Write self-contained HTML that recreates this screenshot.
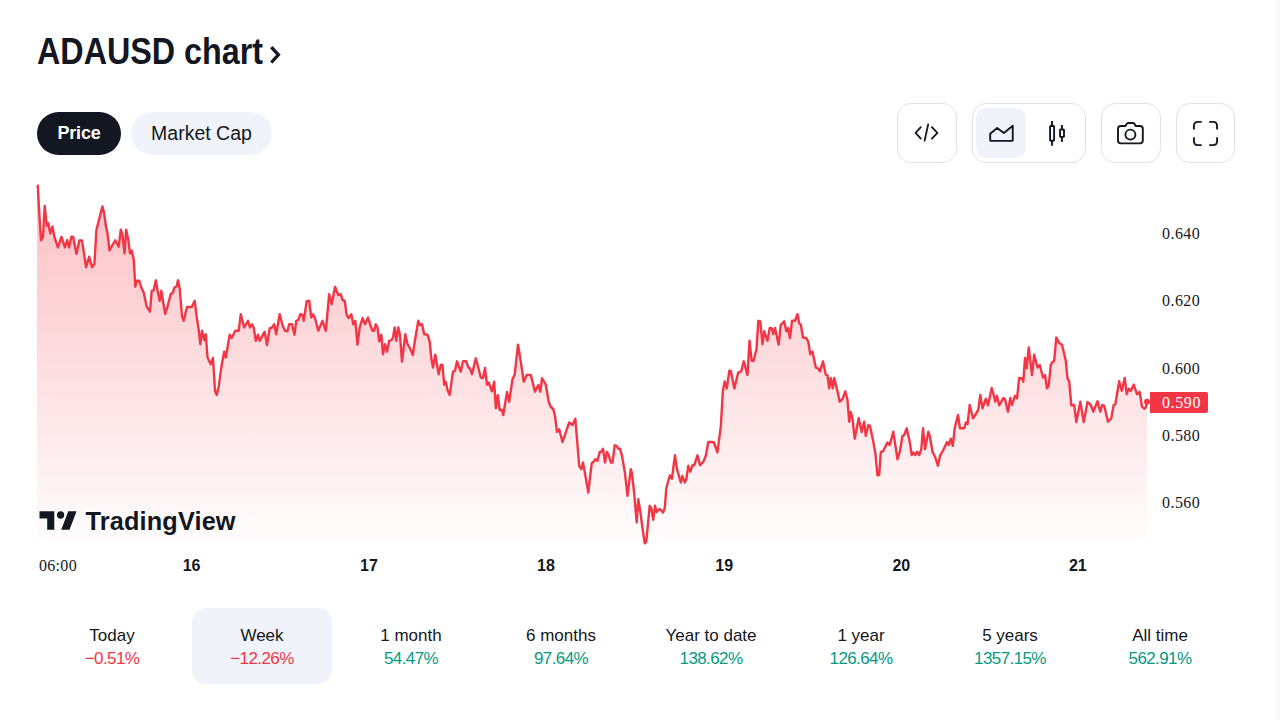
<!DOCTYPE html>
<html><head><meta charset="utf-8"><title>ADAUSD chart</title>
<style>
*{box-sizing:border-box;margin:0;padding:0}
html,body{width:1280px;height:720px;overflow:hidden;background:#fff}
body{font-family:"Liberation Sans",sans-serif;color:#131722;position:relative}
.abs{position:absolute}
#title{left:37px;top:31.5px;font-size:36px;font-weight:bold;white-space:nowrap;line-height:40px}
.pill{position:absolute;top:112px;height:43px;border-radius:22px;font-size:19px;line-height:43px;text-align:center}
#price{left:37px;width:84px;background:#131722;color:#fff;font-weight:bold;font-size:18px;letter-spacing:-0.2px}
#mcap{left:131px;width:141px;background:#f0f3fa;color:#131722;font-size:19.5px}
.ib{position:absolute;top:103px;width:60px;height:60px;border:1px solid #e0e3eb;border-radius:14px}
.ib svg{position:absolute;left:50%;top:50%;transform:translate(-50%,-50%)}
#grp{left:972px;width:114px}
#grpsel{position:absolute;left:3px;top:4px;width:50px;height:50px;border-radius:10px;background:#f0f3fa}
.pl{position:absolute;left:1162px;font-family:"Liberation Serif",serif;font-size:16px;line-height:16px;color:#131722;letter-spacing:0.45px}
.tl{position:absolute;top:558px;width:40px;text-align:center;font-size:16px;line-height:16px;color:#131722}
.tl b{font-weight:bold}
.per{position:absolute;top:608px;width:140px;height:76px;border-radius:14px;text-align:center}
.per .n{position:absolute;left:0;right:0;top:18px;font-size:17px;line-height:20px;color:#131722}
.per .v{position:absolute;left:0;right:0;top:41px;font-size:17px;line-height:20px;letter-spacing:-0.6px}
.red{color:#f23645}.grn{color:#089981}
#scroll{position:absolute;left:1275px;top:0;width:5px;height:720px;background:#fafafa}
</style></head><body>
<div id="title" class="abs"><span style="display:inline-block;transform:scaleX(0.897);transform-origin:0 0">ADAUSD chart</span></div>
<svg class="abs" style="left:260px;top:40px" width="30" height="30" viewBox="260 40 30 30"><path d="M271.3 47.1 L278.4 54.8 L271.3 62.5" stroke="#131722" stroke-width="3.3" fill="none"/></svg>
<div id="price" class="pill">Price</div>
<div id="mcap" class="pill">Market Cap</div>

<div class="ib" style="left:897px"></div>
<div class="ib" id="grp">
<div id="grpsel"></div></div>
<div class="ib" style="left:1101px"></div>
<div class="ib" style="left:1176px;width:59px"></div>

<svg class="abs" style="left:0;top:0" width="1280" height="200" viewBox="0 0 1280 200" fill="none" stroke="#131722" stroke-width="1.9">
<path d="M920.8 127.1 L915.6 132.8 L920.8 138.6 M931.9 127.1 L937.4 132.8 L931.9 138.6 M928.2 124.3 L924.6 140.7" stroke-width="1.8" stroke-linecap="round" stroke-linejoin="round"/>
<path d="M990.2 140 V133.7 L997.1 127.9 L1003.9 133.1 L1012.75 125.7 V140 Q1012.75 140.9 1011.8 140.9 H991.1 Q990.2 140.9 990.2 140 Z" stroke-linejoin="round"/>
<path d="M1052 121 V126 M1052 140.7 V145.7 M1061.9 125 V129.5 M1061.9 136.9 V141.9"/>
<rect x="1050.1" y="126" width="4" height="14.7" rx="0.6"/>
<rect x="1060" y="129.5" width="4" height="7.4" rx="0.6"/>
<path d="M1118 128.8 Q1118 126 1120.8 126 H1125.5 L1126.8 123.8 Q1127.3 123 1128.3 123 H1133 Q1134 123 1134.4 123.8 L1135.6 126 H1140 Q1142.8 126 1142.8 128.8 V140.6 Q1142.8 143.4 1140 143.4 H1120.8 Q1118 143.4 1118 140.6 Z" stroke-linejoin="round"/>
<circle cx="1130.4" cy="134.6" r="5"/>
<path d="M1201.7 121.9 H1198.1 Q1193.9 121.9 1193.9 126.1 V129.6 M1209.2 121.9 H1212.9 Q1217.1 121.9 1217.1 126.1 V129.6 M1193.9 137.2 V140.9 Q1193.9 145.1 1198.1 145.1 H1201.7 M1209.2 145.1 H1212.9 Q1217.1 145.1 1217.1 140.9 V137.2"/>
</svg>
<svg class="abs" style="left:0;top:0" width="1280" height="720" viewBox="0 0 1280 720">
<defs><linearGradient id="g" x1="0" y1="185" x2="0" y2="544" gradientUnits="userSpaceOnUse">
<stop offset="0" stop-color="#f23645" stop-opacity="0.32"/><stop offset="1" stop-color="#f23645" stop-opacity="0.01"/></linearGradient></defs>
<path d="M37 185.8 L37.8 185.8 L38.9 206.9 L41 240.4 L43 237 L44.7 206 L46.8 225.8 L48.2 223 L50.3 233.5 L52.4 226.5 L54.4 237 L57.9 247.4 L61.4 237 L64.9 247.4 L67.2 240 L69 247.4 L71.4 236.7 L73.2 237 L76.4 253.9 L79.4 240.4 L82 240.4 L86.1 267.2 L89.2 256.7 L92 267.2 L94.4 264 L96.4 230 L102.4 206.4 L104.2 213.3 L105.8 225.8 L107.5 233.3 L109.5 250.3 L112.5 245 L115.3 240.3 L118.7 246.7 L120.8 229.7 L122.5 235 L124.5 253.3 L126.2 229.7 L128.3 240 L130 253.3 L131.7 250.5 L133.8 260 L135.3 286.7 L137 280.8 L139.2 280.8 L141.7 288.3 L143.7 292.5 L146.7 306.7 L150 311.7 L151.7 290.8 L153.7 290.3 L155.8 280.3 L157.5 290 L159.7 300.8 L161.3 290.8 L165.2 314 L167.5 306.7 L170.8 293.7 L172.5 293.3 L174.5 287.5 L176.7 286.3 L178 280.3 L179.7 288.3 L182 316 L183.7 320.8 L187 307 L191.7 307 L194.7 300.8 L196.7 316.7 L198.7 330 L200.3 344.2 L202 330.8 L204.2 340 L205.8 334.2 L207.5 357.5 L210.8 364.2 L213 358 L215 390.8 L216.7 395 L218.7 386.7 L221.7 365 L224.2 351.7 L225.8 357.5 L229.7 334.7 L231.7 338 L235.3 330.8 L238.7 330.8 L240.8 314.2 L244.2 327.5 L248 320.8 L250 327.5 L252 324.2 L253.7 327.5 L255.8 340.8 L258 334.7 L259.7 340.8 L264.7 331.7 L267 345 L269.7 328.3 L272 327.5 L274.2 324.2 L276.2 334.2 L279.7 314.2 L282.5 325 L285 330.8 L287.5 331.3 L289.2 324.2 L292 324.2 L294.5 334.7 L296.3 320.8 L298.3 320 L300.3 314.2 L302.5 315 L303.7 320.8 L306.7 301.3 L309.2 300.8 L311.3 317.5 L313 314.2 L315 318.3 L318.3 330.8 L322.5 320.8 L325.8 330.8 L329.2 294.2 L331.7 304.2 L335 286.7 L338.3 295 L340.8 294.2 L342.5 300 L344.7 300.8 L346.7 315 L348.7 318 L351.3 314.2 L353.3 324.2 L355.3 320.8 L357.5 344.7 L359.7 327.5 L362.5 318 L365 324.2 L368 317.5 L370 324.2 L372.5 330.8 L374.2 330.8 L375.8 324.2 L377.5 327.5 L379.2 341.3 L381.3 334.7 L383 354.2 L385 344.2 L387 351.7 L389.2 340.8 L391.3 340.3 L393 337.5 L394.7 327.5 L396.3 340.8 L398.3 327.5 L400 335 L402 361.7 L405.3 334.2 L407.5 344.2 L410 348.3 L412.8 355 L415 340 L418.3 320.8 L420 325 L422 324.2 L424.2 334.2 L427.5 334.7 L429.7 341.7 L431.3 358.3 L433 367.5 L435.3 354.7 L438.7 374.2 L440.8 364.7 L442.5 365 L444.2 384.7 L445.8 381.7 L447.5 390 L449.7 395 L453 371.7 L455 370.8 L457 361.3 L460.8 371.7 L463 361.3 L466.3 361.3 L468.3 367.5 L470 368.3 L472 374.2 L475.8 358.3 L478.3 367.5 L480.8 377.5 L483 378 L485 368 L487 384.7 L488.7 382.5 L492 391.3 L494.2 381.7 L495.8 408.3 L497.8 395.3 L499.7 410 L501.7 409.7 L503.3 415 L507 392 L509.2 401.7 L512.5 379.2 L514.7 374.7 L518 344.7 L520.3 358.3 L523.7 381.7 L526.7 375 L530.8 375 L535 391.7 L538.3 385 L540.3 391.7 L542 378.3 L545.8 384.7 L548.7 401.7 L550.8 407 L553.3 409.2 L555 415.8 L557 432 L559.2 429.2 L562.5 442 L565 434.7 L569.2 422.5 L572.5 425 L575.3 418.7 L577.5 445 L579.2 465.8 L581.3 469.2 L583 462.5 L585.3 475 L588.3 492.5 L591.7 463.3 L593.7 461.7 L595.3 459.2 L597.5 460.8 L599.7 452 L601.3 451.7 L603 448.7 L605 462.5 L607 452 L608.7 455 L610.8 462.5 L612.5 462.5 L614.7 445.3 L616.7 445.8 L618.3 448.7 L620 448.7 L622 455.8 L625 473.3 L627.5 495.8 L630.8 469.2 L632 473.3 L634.2 493.3 L636.7 522.5 L638.3 499.2 L640.3 511.7 L642.5 528.3 L644.7 543.3 L646.3 541.7 L649.7 505.8 L651.3 508.3 L653.3 519.7 L655 505.8 L656.7 512 L659.2 509.2 L660.8 509.7 L663 512.5 L664.7 508.3 L666.3 488.3 L668.3 480.8 L670 475.3 L672 478.7 L673.7 465 L675 455.3 L677 469.2 L679.2 476.7 L680.8 482.5 L682.5 475.8 L684.7 482.5 L686.3 479.2 L688.3 465.8 L690.3 471.7 L692.5 465.3 L694.2 465.3 L697.5 455.3 L700 465.3 L703.3 461.7 L705.8 455.8 L708.3 442 L711.7 442 L714 442.5 L717.4 452.4 L720.8 426.7 L722.9 390.6 L724.7 381.5 L726.7 388.5 L729.4 370.8 L730.8 371 L734.4 388.5 L738.2 372.5 L741.3 371.3 L743.7 361.3 L747.5 375 L749.5 340.8 L751.7 360.8 L753.5 361 L756.5 349.2 L758.3 320.8 L760.3 321.3 L762.5 344.2 L764.2 331.3 L767.5 340.8 L769.7 328 L771.7 328.3 L773.3 334.2 L775 328 L778.7 344.7 L780.8 324.7 L782.5 323.3 L784.2 321.3 L786.3 331.3 L788 328 L790 338 L792 320.8 L795 320.8 L797.5 314.2 L799.2 323.3 L800.8 324.7 L803 337.5 L806.3 338 L808.3 341.7 L810.3 354.2 L812.5 351.7 L815.8 367.5 L818 368.3 L820 371.3 L823 361.3 L825.8 374.7 L827.5 375.3 L829.2 388.3 L830.8 378.3 L832.8 388.3 L834.2 378 L837 389.2 L839.7 401.7 L842.5 399.2 L845.3 391.3 L847.5 400 L849.2 421.7 L850.8 412 L852.5 418.3 L854.7 438.7 L858.7 418.3 L861.7 432 L864.2 421.7 L865.8 435.8 L868.3 425 L870 425.8 L873.3 441.7 L875.3 452.5 L877.5 475.3 L879.2 475 L880.8 452 L883 451.3 L887.5 442.5 L889.7 445 L893.3 431.7 L897.5 459.2 L900 450.8 L902.5 435.8 L904.2 435 L906.7 428.3 L909.7 441.7 L911.7 455 L913.3 452.5 L915.3 455 L917 451.7 L919.2 455 L921.3 449.2 L923 428.3 L925 449.2 L928.3 431.7 L930 436.7 L932.5 451.7 L935 456.7 L938 465.8 L940 455.8 L943.3 450 L947 442 L948.7 445 L950.8 438.7 L952.8 445.8 L954.7 428.3 L958 415 L960 428.3 L964.2 428.3 L965.8 422.5 L967.5 424.2 L969.7 405 L973 418.3 L975.8 414.2 L978.3 409.7 L980.3 395 L982.5 408.3 L985.8 398.7 L988 405.3 L991.7 388 L993.7 395 L995.3 401.7 L997 395.8 L999.2 405.3 L1001.3 401.7 L1003.3 398 L1005 399.2 L1008 411.7 L1010.3 398 L1012 405 L1015 395.8 L1017 398.3 L1019.2 378 L1021.7 378.3 L1023.3 381.7 L1025 358 L1026.7 368.3 L1028.7 347.5 L1032 375 L1034.2 354.7 L1037.5 367.5 L1039.7 365 L1043 377.5 L1045 375 L1047 388.3 L1048.7 385.8 L1050.8 364.7 L1052.5 362 L1054.2 360.8 L1056.3 337.5 L1059.2 343 L1062 344.7 L1065.8 360.8 L1067.5 378.3 L1069.2 381.3 L1071.3 405.3 L1074.2 405 L1076.3 422 L1080.3 401.7 L1083.7 422 L1087.5 402 L1090.8 405 L1093.3 411.7 L1097.5 401.3 L1100.3 411.7 L1102 405 L1104.2 405.8 L1108 421.7 L1111.3 418.3 L1113.7 405 L1115.3 404.2 L1119.2 381.3 L1121.7 390.8 L1124.7 378 L1126.7 394.2 L1128.7 388.7 L1130.8 390.8 L1133.7 384.7 L1137 394.2 L1139.7 392 L1142 406.7 L1144.2 408.7 L1145.8 407.5 L1147 401.7 L1147 544 L37 544 Z" fill="url(#g)"/>
<path d="M37.8 185.8 L38.9 206.9 L41 240.4 L43 237 L44.7 206 L46.8 225.8 L48.2 223 L50.3 233.5 L52.4 226.5 L54.4 237 L57.9 247.4 L61.4 237 L64.9 247.4 L67.2 240 L69 247.4 L71.4 236.7 L73.2 237 L76.4 253.9 L79.4 240.4 L82 240.4 L86.1 267.2 L89.2 256.7 L92 267.2 L94.4 264 L96.4 230 L102.4 206.4 L104.2 213.3 L105.8 225.8 L107.5 233.3 L109.5 250.3 L112.5 245 L115.3 240.3 L118.7 246.7 L120.8 229.7 L122.5 235 L124.5 253.3 L126.2 229.7 L128.3 240 L130 253.3 L131.7 250.5 L133.8 260 L135.3 286.7 L137 280.8 L139.2 280.8 L141.7 288.3 L143.7 292.5 L146.7 306.7 L150 311.7 L151.7 290.8 L153.7 290.3 L155.8 280.3 L157.5 290 L159.7 300.8 L161.3 290.8 L165.2 314 L167.5 306.7 L170.8 293.7 L172.5 293.3 L174.5 287.5 L176.7 286.3 L178 280.3 L179.7 288.3 L182 316 L183.7 320.8 L187 307 L191.7 307 L194.7 300.8 L196.7 316.7 L198.7 330 L200.3 344.2 L202 330.8 L204.2 340 L205.8 334.2 L207.5 357.5 L210.8 364.2 L213 358 L215 390.8 L216.7 395 L218.7 386.7 L221.7 365 L224.2 351.7 L225.8 357.5 L229.7 334.7 L231.7 338 L235.3 330.8 L238.7 330.8 L240.8 314.2 L244.2 327.5 L248 320.8 L250 327.5 L252 324.2 L253.7 327.5 L255.8 340.8 L258 334.7 L259.7 340.8 L264.7 331.7 L267 345 L269.7 328.3 L272 327.5 L274.2 324.2 L276.2 334.2 L279.7 314.2 L282.5 325 L285 330.8 L287.5 331.3 L289.2 324.2 L292 324.2 L294.5 334.7 L296.3 320.8 L298.3 320 L300.3 314.2 L302.5 315 L303.7 320.8 L306.7 301.3 L309.2 300.8 L311.3 317.5 L313 314.2 L315 318.3 L318.3 330.8 L322.5 320.8 L325.8 330.8 L329.2 294.2 L331.7 304.2 L335 286.7 L338.3 295 L340.8 294.2 L342.5 300 L344.7 300.8 L346.7 315 L348.7 318 L351.3 314.2 L353.3 324.2 L355.3 320.8 L357.5 344.7 L359.7 327.5 L362.5 318 L365 324.2 L368 317.5 L370 324.2 L372.5 330.8 L374.2 330.8 L375.8 324.2 L377.5 327.5 L379.2 341.3 L381.3 334.7 L383 354.2 L385 344.2 L387 351.7 L389.2 340.8 L391.3 340.3 L393 337.5 L394.7 327.5 L396.3 340.8 L398.3 327.5 L400 335 L402 361.7 L405.3 334.2 L407.5 344.2 L410 348.3 L412.8 355 L415 340 L418.3 320.8 L420 325 L422 324.2 L424.2 334.2 L427.5 334.7 L429.7 341.7 L431.3 358.3 L433 367.5 L435.3 354.7 L438.7 374.2 L440.8 364.7 L442.5 365 L444.2 384.7 L445.8 381.7 L447.5 390 L449.7 395 L453 371.7 L455 370.8 L457 361.3 L460.8 371.7 L463 361.3 L466.3 361.3 L468.3 367.5 L470 368.3 L472 374.2 L475.8 358.3 L478.3 367.5 L480.8 377.5 L483 378 L485 368 L487 384.7 L488.7 382.5 L492 391.3 L494.2 381.7 L495.8 408.3 L497.8 395.3 L499.7 410 L501.7 409.7 L503.3 415 L507 392 L509.2 401.7 L512.5 379.2 L514.7 374.7 L518 344.7 L520.3 358.3 L523.7 381.7 L526.7 375 L530.8 375 L535 391.7 L538.3 385 L540.3 391.7 L542 378.3 L545.8 384.7 L548.7 401.7 L550.8 407 L553.3 409.2 L555 415.8 L557 432 L559.2 429.2 L562.5 442 L565 434.7 L569.2 422.5 L572.5 425 L575.3 418.7 L577.5 445 L579.2 465.8 L581.3 469.2 L583 462.5 L585.3 475 L588.3 492.5 L591.7 463.3 L593.7 461.7 L595.3 459.2 L597.5 460.8 L599.7 452 L601.3 451.7 L603 448.7 L605 462.5 L607 452 L608.7 455 L610.8 462.5 L612.5 462.5 L614.7 445.3 L616.7 445.8 L618.3 448.7 L620 448.7 L622 455.8 L625 473.3 L627.5 495.8 L630.8 469.2 L632 473.3 L634.2 493.3 L636.7 522.5 L638.3 499.2 L640.3 511.7 L642.5 528.3 L644.7 543.3 L646.3 541.7 L649.7 505.8 L651.3 508.3 L653.3 519.7 L655 505.8 L656.7 512 L659.2 509.2 L660.8 509.7 L663 512.5 L664.7 508.3 L666.3 488.3 L668.3 480.8 L670 475.3 L672 478.7 L673.7 465 L675 455.3 L677 469.2 L679.2 476.7 L680.8 482.5 L682.5 475.8 L684.7 482.5 L686.3 479.2 L688.3 465.8 L690.3 471.7 L692.5 465.3 L694.2 465.3 L697.5 455.3 L700 465.3 L703.3 461.7 L705.8 455.8 L708.3 442 L711.7 442 L714 442.5 L717.4 452.4 L720.8 426.7 L722.9 390.6 L724.7 381.5 L726.7 388.5 L729.4 370.8 L730.8 371 L734.4 388.5 L738.2 372.5 L741.3 371.3 L743.7 361.3 L747.5 375 L749.5 340.8 L751.7 360.8 L753.5 361 L756.5 349.2 L758.3 320.8 L760.3 321.3 L762.5 344.2 L764.2 331.3 L767.5 340.8 L769.7 328 L771.7 328.3 L773.3 334.2 L775 328 L778.7 344.7 L780.8 324.7 L782.5 323.3 L784.2 321.3 L786.3 331.3 L788 328 L790 338 L792 320.8 L795 320.8 L797.5 314.2 L799.2 323.3 L800.8 324.7 L803 337.5 L806.3 338 L808.3 341.7 L810.3 354.2 L812.5 351.7 L815.8 367.5 L818 368.3 L820 371.3 L823 361.3 L825.8 374.7 L827.5 375.3 L829.2 388.3 L830.8 378.3 L832.8 388.3 L834.2 378 L837 389.2 L839.7 401.7 L842.5 399.2 L845.3 391.3 L847.5 400 L849.2 421.7 L850.8 412 L852.5 418.3 L854.7 438.7 L858.7 418.3 L861.7 432 L864.2 421.7 L865.8 435.8 L868.3 425 L870 425.8 L873.3 441.7 L875.3 452.5 L877.5 475.3 L879.2 475 L880.8 452 L883 451.3 L887.5 442.5 L889.7 445 L893.3 431.7 L897.5 459.2 L900 450.8 L902.5 435.8 L904.2 435 L906.7 428.3 L909.7 441.7 L911.7 455 L913.3 452.5 L915.3 455 L917 451.7 L919.2 455 L921.3 449.2 L923 428.3 L925 449.2 L928.3 431.7 L930 436.7 L932.5 451.7 L935 456.7 L938 465.8 L940 455.8 L943.3 450 L947 442 L948.7 445 L950.8 438.7 L952.8 445.8 L954.7 428.3 L958 415 L960 428.3 L964.2 428.3 L965.8 422.5 L967.5 424.2 L969.7 405 L973 418.3 L975.8 414.2 L978.3 409.7 L980.3 395 L982.5 408.3 L985.8 398.7 L988 405.3 L991.7 388 L993.7 395 L995.3 401.7 L997 395.8 L999.2 405.3 L1001.3 401.7 L1003.3 398 L1005 399.2 L1008 411.7 L1010.3 398 L1012 405 L1015 395.8 L1017 398.3 L1019.2 378 L1021.7 378.3 L1023.3 381.7 L1025 358 L1026.7 368.3 L1028.7 347.5 L1032 375 L1034.2 354.7 L1037.5 367.5 L1039.7 365 L1043 377.5 L1045 375 L1047 388.3 L1048.7 385.8 L1050.8 364.7 L1052.5 362 L1054.2 360.8 L1056.3 337.5 L1059.2 343 L1062 344.7 L1065.8 360.8 L1067.5 378.3 L1069.2 381.3 L1071.3 405.3 L1074.2 405 L1076.3 422 L1080.3 401.7 L1083.7 422 L1087.5 402 L1090.8 405 L1093.3 411.7 L1097.5 401.3 L1100.3 411.7 L1102 405 L1104.2 405.8 L1108 421.7 L1111.3 418.3 L1113.7 405 L1115.3 404.2 L1119.2 381.3 L1121.7 390.8 L1124.7 378 L1126.7 394.2 L1128.7 388.7 L1130.8 390.8 L1133.7 384.7 L1137 394.2 L1139.7 392 L1142 406.7 L1144.2 408.7 L1145.8 407.5 L1147 401.7" fill="none" stroke="#f23645" stroke-width="2.4" stroke-linejoin="round" stroke-linecap="round"/>
<circle cx="1147" cy="401.7" r="3" fill="#f23645"/>
</svg>

<!-- TradingView logo -->
<svg class="abs" style="left:0;top:480px" width="260" height="70" viewBox="0 480 260 70">
<g stroke="#fff" stroke-width="2.5" stroke-linejoin="round" paint-order="stroke" fill="#131722">
<path d="M39.5 511.2 H54.3 V529.8 H47.2 V518.5 H39.5 Z M68.3 511.2 H76.6 L69.5 529.8 H61.2 Z"/>
<circle cx="60.6" cy="515" r="3.65"/>
<text x="85.5" y="529.6" font-family="Liberation Sans" font-weight="bold" font-size="25.3" letter-spacing="0.15">TradingView</text>
</g></svg>

<div class="pl" style="top:226px">0.640</div>
<div class="pl" style="top:293px">0.620</div>
<div class="pl" style="top:360.5px">0.600</div>
<div class="pl" style="top:428px">0.580</div>
<div class="pl" style="top:495px">0.560</div>
<div class="abs" style="left:1150px;top:392px;width:58px;height:21px;background:#f23645;border-radius:0 2px 2px 0;color:#fff;font-family:'Liberation Serif',serif;font-size:16px;line-height:21px;padding-left:12px;letter-spacing:0.6px">0.590</div>

<div class="abs" style="left:39px;top:558px;font-family:'Liberation Serif',serif;font-size:16px;line-height:16px;letter-spacing:0.3px">06:00</div>
<div class="tl" style="left:171.6px"><b>16</b></div>
<div class="tl" style="left:349.0px"><b>17</b></div>
<div class="tl" style="left:526.0px"><b>18</b></div>
<div class="tl" style="left:704.2px"><b>19</b></div>
<div class="tl" style="left:881.3px"><b>20</b></div>
<div class="tl" style="left:1057.8px"><b>21</b></div>

<div class="per" style="left:42px"><div class="n">Today</div><div class="v red">&minus;0.51%</div></div>
<div class="per" style="left:192px;background:#f0f3fa"><div class="n">Week</div><div class="v red">&minus;12.26%</div></div>
<div class="per" style="left:341px"><div class="n">1 month</div><div class="v grn">54.47%</div></div>
<div class="per" style="left:491px"><div class="n">6 months</div><div class="v grn">97.64%</div></div>
<div class="per" style="left:641px"><div class="n">Year to date</div><div class="v grn">138.62%</div></div>
<div class="per" style="left:791px"><div class="n">1 year</div><div class="v grn">126.64%</div></div>
<div class="per" style="left:940px"><div class="n">5 years</div><div class="v grn">1357.15%</div></div>
<div class="per" style="left:1090px"><div class="n">All time</div><div class="v grn">562.91%</div></div>

<div id="scroll"></div>
</body></html>
